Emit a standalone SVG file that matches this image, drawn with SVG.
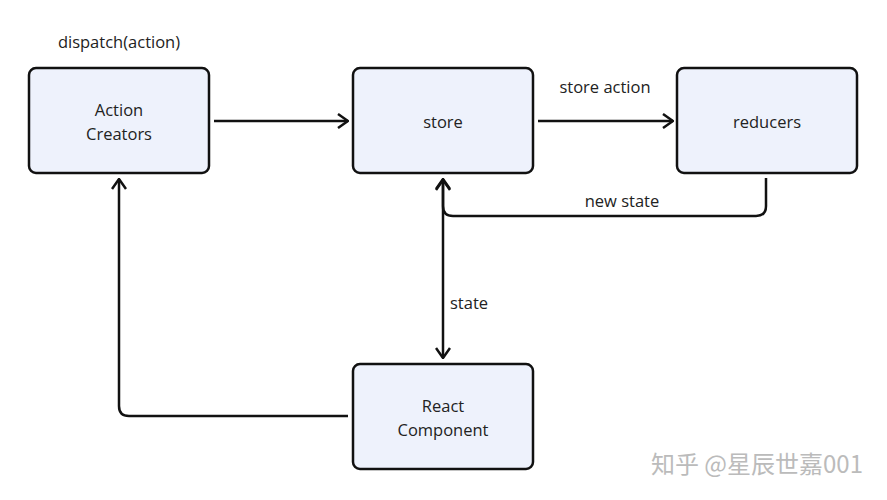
<svg xmlns="http://www.w3.org/2000/svg" width="887" height="500" viewBox="0 0 887 500">
<style>
.box{fill:#eef2fc;stroke:#111;stroke-width:2.5}
.t{font-family:"Open Sans","Noto Sans",sans-serif;font-size:16.5px;fill:#222;text-anchor:middle}
.c{fill:none;stroke:#111;stroke-width:2.5}
</style>
<defs>
<marker id="a" viewBox="0 0 12 16" refX="11" refY="8" markerWidth="12" markerHeight="16" markerUnits="userSpaceOnUse" orient="auto-start-reverse">
<path d="M1 1 L11 8 L1 15" fill="none" stroke="#111" stroke-width="2.5"/>
</marker>
</defs>
<rect width="887" height="500" fill="#fff"/>
<text class="t" x="119" y="48">dispatch(action)</text>
<g id="action-creators"><rect class="box" x="29" y="68" width="180" height="105" rx="7"/><text class="t" x="119" y="116">Action</text><text class="t" x="119" y="140">Creators</text></g>
<g id="store"><rect class="box" x="353" y="68" width="180" height="105" rx="7"/><text class="t" x="443" y="128">store</text></g>
<g id="reducers"><rect class="box" x="677" y="68" width="180" height="105" rx="7"/><text class="t" x="767" y="128">reducers</text></g>
<g id="react-component"><rect class="box" x="353" y="364" width="180" height="105" rx="7"/><text class="t" x="443" y="412">React</text><text class="t" x="443" y="436">Component</text></g>
<g id="connectors">
<path class="c" d="M214 121 H348" marker-end="url(#a)"/>
<path class="c" d="M538 121 H673" marker-end="url(#a)"/>
<path class="c" d="M766 178 V206 Q766 216 756 216 H453 Q443 216 443 206 V179" marker-end="url(#a)"/>
<path class="c" d="M443 180 V358" marker-start="url(#a)" marker-end="url(#a)"/>
<path class="c" d="M348 416 H129 Q119 416 119 406 V179" marker-end="url(#a)"/>
</g>
<text class="t" x="605" y="93">store action</text>
<text class="t" x="622" y="207">new state</text>
<text class="t" x="469" y="309">state</text>
<text x="863" y="473" font-family="'Noto Sans CJK SC',sans-serif" font-size="24" fill="#bbb" text-anchor="end">知乎 @星辰世嘉001</text>
</svg>
